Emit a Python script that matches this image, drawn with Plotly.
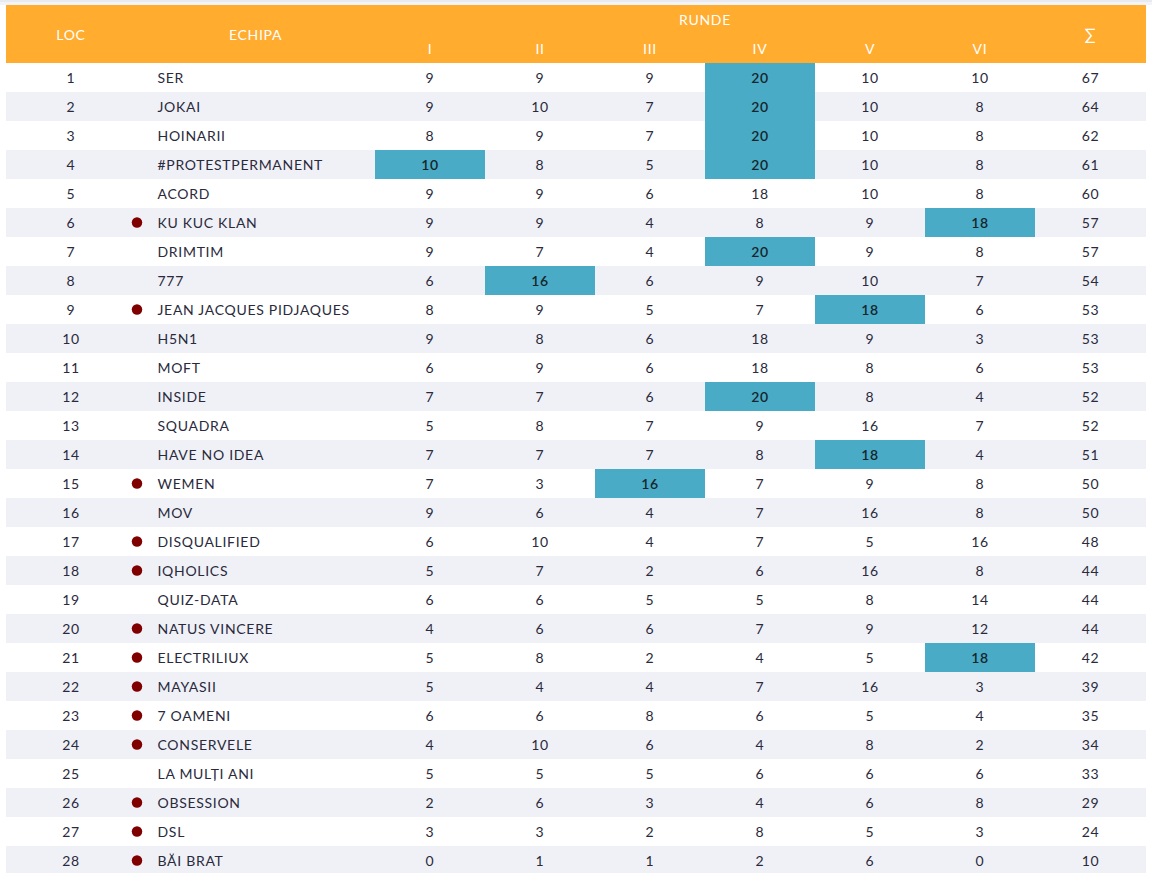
import plotly.graph_objects as go

teams = ["SER", "JOKAI", "HOINARII", "#PROTESTPERMANENT", "ACORD", "KU KUC KLAN", "DRIMTIM", "777",
         "JEAN JACQUES PIDJAQUES", "H5N1", "MOFT", "INSIDE", "SQUADRA", "HAVE NO IDEA", "WEMEN", "MOV",
         "DISQUALIFIED", "IQHOLICS", "QUIZ-DATA", "NATUS VINCERE", "ELECTRILIUX", "MAYASII", "7 OAMENI",
         "CONSERVELE", "LA MULȚI ANI", "OBSESSION", "DSL", "BĂI BRAT"]
round_1 = [9, 9, 8, 10, 9, 9, 9, 6, 8, 9, 6, 7, 5, 7, 7, 9, 6, 5, 6, 4, 5, 5, 6, 4, 5, 2, 3, 0]
round_2 = [9, 10, 9, 8, 9, 9, 7, 16, 9, 8, 9, 7, 8, 7, 3, 6, 10, 7, 6, 6, 8, 4, 6, 10, 5, 6, 3, 1]
round_3 = [9, 7, 7, 5, 6, 4, 4, 6, 5, 6, 6, 6, 7, 7, 16, 4, 4, 2, 5, 6, 2, 4, 8, 6, 5, 3, 2, 1]
round_4 = [20, 20, 20, 20, 18, 8, 20, 9, 7, 18, 18, 20, 9, 8, 7, 7, 7, 6, 5, 7, 4, 7, 6, 4, 6, 4, 8, 2]
round_5 = [10, 10, 10, 10, 10, 9, 9, 10, 18, 9, 8, 8, 16, 18, 9, 16, 5, 16, 8, 9, 5, 16, 5, 8, 6, 6, 5, 6]
round_6 = [10, 8, 8, 8, 8, 18, 8, 7, 6, 3, 6, 4, 7, 4, 8, 8, 16, 8, 14, 12, 18, 3, 4, 2, 6, 8, 3, 0]
totals = [67, 64, 62, 61, 60, 57, 57, 54, 53, 53, 53, 52, 52, 51, 50, 50, 48, 44, 44, 44, 42, 39, 35, 34, 33, 29, 24, 10]
round_labels = ["I", "II", "III", "IV", "V", "VI"]
# places of the teams with a red dot
dot_places = [6, 9, 15, 17, 18, 20, 21, 22, 23, 24, 26, 27, 28]
# (place, round number) of the blue cells
highlights = [(1, 4), (2, 4), (3, 4), (4, 4), (4, 1), (6, 6), (7, 4), (8, 2), (9, 5), (12, 4), (14, 5), (15, 3), (21, 6)]

rounds = [round_1, round_2, round_3, round_4, round_5, round_6]
places = list(range(1, len(teams) + 1))

WIDTH, HEIGHT = 1152, 873
ROW_PX, TABLE_TOP = 29, 63
TEXT_DY = 2 / ROW_PX  # text sits a little under the row centre

ORANGE = "#ffac2f"
BLUE = "#4aabc6"
STRIPE = "#f0f1f7"
INK = "#2a2a3c"

# column edges in px: LOC, ECHIPA, six rounds, total
edges = [6, 136, 375, 485, 595, 705, 815, 925, 1035, 1146]
centers = [(a + b) / 2 for a, b in zip(edges, edges[1:])]
round_x = centers[2:8]

# cell colours: 0 white, 1 stripe, 2 header, 3 blue
z = [[2] * 9, [2] * 9]
for i in range(len(teams)):
    row = [i % 2] * 9
    for place, rnd in highlights:
        if place == i + 1:
            row[rnd + 1] = 3
    z.append(row)

fig = go.Figure()
fig.add_trace(go.Heatmap(
    z=z,
    x=edges,
    y=list(range(-2, len(teams) + 1)),
    zmin=0, zmax=3,
    colorscale=[[0, "white"], [1 / 3, STRIPE], [2 / 3, ORANGE], [1, BLUE]],
    showscale=False,
    hoverinfo="skip",
))

# red dots
dot_rows = [p - 0.5 for p in dot_places]
fig.add_trace(go.Scatter(
    x=[137] * len(dot_rows), y=dot_rows, mode="markers",
    marker=dict(color="#800000", size=10.5), hoverinfo="skip",
))

# place + round + total numbers
num_x, num_y, num_text, num_color, num_weight = [], [], [], [], []
for i in range(len(teams)):
    y = i + 0.5 + TEXT_DY
    num_x.append(centers[0]); num_y.append(y); num_text.append(str(places[i])); num_color.append(INK); num_weight.append(400)
    for r, col in enumerate(rounds):
        hot = (i + 1, r + 1) in highlights
        num_x.append(round_x[r]); num_y.append(y); num_text.append(str(col[i]))
        num_color.append("#16262c" if hot else INK)
        num_weight.append(600 if hot else 400)
    num_x.append(centers[8]); num_y.append(y); num_text.append(str(totals[i])); num_color.append(INK); num_weight.append(400)
fig.add_trace(go.Scatter(
    x=num_x, y=num_y, text=num_text, mode="text", textposition="middle center",
    textfont=dict(family="Lato", size=14, color=num_color, weight=num_weight), hoverinfo="skip",
))

# team names
fig.add_trace(go.Scatter(
    x=[157.5] * len(teams), y=[i + 0.5 + TEXT_DY for i in range(len(teams))], text=teams,
    mode="text", textposition="middle right",
    textfont=dict(family="Lato", size=14, color=INK), hoverinfo="skip",
))

# header
head_x = [centers[0], (edges[1] + edges[2]) / 2, (edges[2] + edges[8]) / 2] + round_x + [centers[8]]
head_y = [-1, -1, -1.5] + [-0.5] * 6 + [-1]
head_y = [v + TEXT_DY for v in head_y]
head_text = ["LOC", "ECHIPA", "RUNDE"] + round_labels + ["∑"]
head_size = [14] * (len(head_text) - 1) + [16]
fig.add_trace(go.Scatter(
    x=head_x, y=head_y, text=head_text, mode="text", textposition="middle center",
    textfont=dict(family="Lato", size=head_size, color="white"), hoverinfo="skip",
))

fig.update_layout(
    width=WIDTH, height=HEIGHT,
    margin=dict(l=0, r=0, t=0, b=0),
    paper_bgcolor="white", plot_bgcolor="white",
    showlegend=False,
    xaxis=dict(range=[0, WIDTH], visible=False, fixedrange=True),
    yaxis=dict(range=[(HEIGHT - TABLE_TOP) / ROW_PX, -TABLE_TOP / ROW_PX], visible=False, fixedrange=True),
    # faint shadow along the top of the page
    shapes=[
        dict(type="rect", xref="paper", yref="paper", x0=0, x1=1, y0=1 - 2 / HEIGHT, y1=1,
             fillcolor="#e9eaf0", line_width=0),
        dict(type="rect", xref="paper", yref="paper", x0=0, x1=1, y0=1 - 5 / HEIGHT, y1=1 - 2 / HEIGHT,
             fillcolor="#f3f4f8", line_width=0),
    ],
)

# page margin off, and the letter spacing plotly fonts can't set
page_css = "body{margin:0;overflow:hidden} .textpoint text{letter-spacing:.7px}"
fig.write_html(
    "out.html",
    config={"displayModeBar": False},
    post_script=f"var s=document.createElement('style');s.textContent='{page_css}';document.head.appendChild(s);",
)
